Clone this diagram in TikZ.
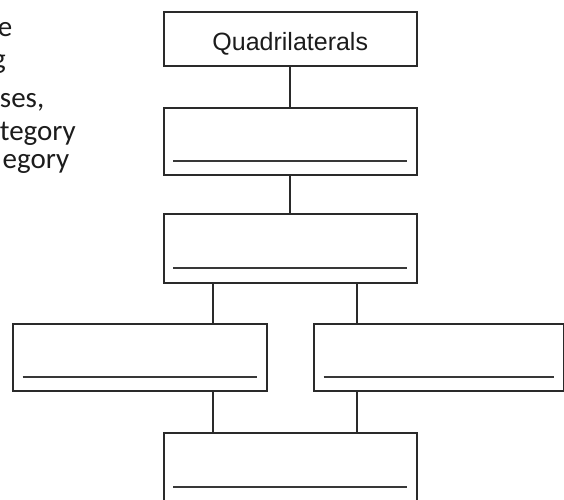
\documentclass[tikz,border=0pt]{standalone}
\usepackage{fontspec}
\setmainfont{Liberation Sans}
\newfontfamily\notefont{Carlito}
\usetikzlibrary{calc}
\definecolor{boxcol}{HTML}{2A2A2A}
\definecolor{linecol}{HTML}{383838}
\definecolor{txtcol}{HTML}{1C1C1C}
\begin{document}
\begin{tikzpicture}[x=1pt,y=1pt,
  box/.style={draw=boxcol, line width=1.8pt, rectangle, inner sep=0pt,
    minimum width=253.3pt, minimum height=67.5pt, anchor=north west},
  blank/.style={draw=linecol, line width=1.7pt},
  link/.style={draw=boxcol, line width=1.8pt},
  note/.style={font=\notefont\fontsize{29}{34}\selectfont, text=txtcol,
    inner sep=0pt, anchor=base east}]
\useasboundingbox (0,0) rectangle (564,-499);
\clip (0,0) rectangle (564,-499);

% fragments of the instruction text at the left edge
\node[note] (n1) at (12.5,-36.7) {e};
\node[note] (n2) at (6,-68.5) {g};
\node[note] (n3) at (44.5,-107.5) {uses,};
\node[note] (n4) at (76,-140) {tegory};
\node[note] (n5) at (69.5,-168.3) {egory};

% boxes
\node[box, minimum height=54.3pt, text height=23.3pt, text depth=0pt,
  font=\fontsize{25}{30}\selectfont, text=txtcol] (q) at (162.7,-10.7) {Quadrilaterals};
\node[box] (b2) at (162.7,-106.7) {};
\node[box, minimum height=69pt] (b3) at (162.7,-212.7) {};
\node[box, minimum width=253.7pt] (l) at (12,-322.7) {};
\node[box, minimum width=250pt] (r) at (313,-322.9) {};
\node[box, minimum height=69pt] (bt) at (162.7,-432.3) {};

% write-in lines
\foreach \b in {b2,l,r,bt}
  \draw[blank] ($(\b.north west)+(10.5,-54.4)$) -- ($(\b.north east)+(-11,-54.4)$);
\draw[blank] ($(b3.north west)+(10.5,-55.6)$) -- ($(b3.north east)+(-11,-55.6)$);

% connectors
\coordinate (c1) at (213.3,0);
\coordinate (c2) at (357,0);
\draw[link] (q.south) -- (b2.north);
\draw[link] (b2.south) -- (b3.north);
\draw[link] (b3.south -| c1) -- (l.north -| c1);
\draw[link] (b3.south -| c2) -- (r.north -| c2);
\draw[link] (l.south -| c1) -- (bt.north -| c1);
\draw[link] (r.south -| c2) -- (bt.north -| c2);
\end{tikzpicture}
\end{document}
